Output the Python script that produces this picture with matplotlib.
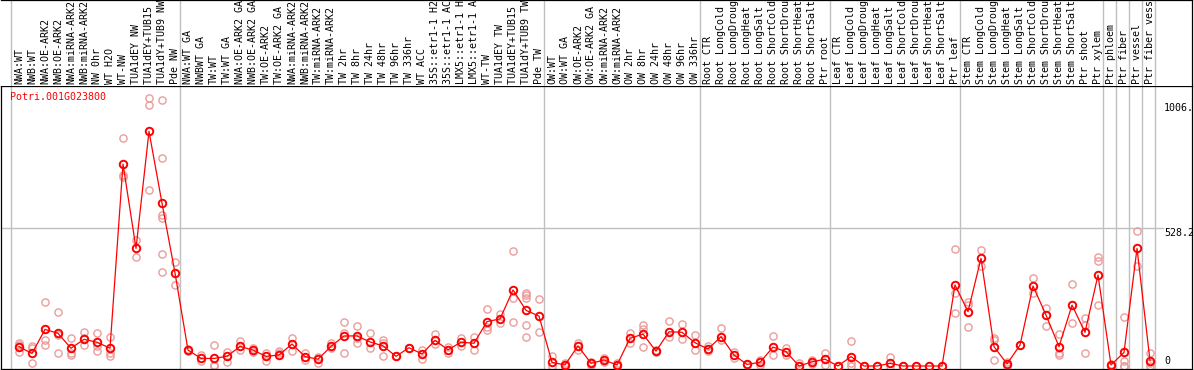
import numpy as np
import matplotlib
matplotlib.use("Agg")
import matplotlib.pyplot as plt

# sample labels (one per column)
labels = [
    "NWA:WT", "NWB:WT", "NWA:OE-ARK2", "NWB:OE-ARK2", "NWA:miRNA-ARK2", "NWB:miRNA-ARK2",
    "NW 0hr", "WT H2O", "WT-NW", "TUA1dEY NW", "TUA1dEY+TUB15 NW", "TUA1dY+TUB9 NW", "Pde NW",
    "NWA:WT GA", "NWBWT GA", "TW:WT", "TW:WT GA", "NWA:OE-ARK2 GA", "NWB:OE-ARK2 GA",
    "TW:OE-ARK2", "TW:OE-ARK2 GA", "NWA:miRNA-ARK2", "NWB:miRNA-ARK2", "TW:miRNA-ARK2",
    "TW:miRNA-ARK2", "TW 2hr", "TW 8hr", "TW 24hr", "TW 48hr", "TW 96hr", "TW 336hr",
    "WT ACC", "35S::etr1-1 H2O", "35S::etr1-1 ACC", "LMX5::etr1-1 H2O", "LMX5::etr1-1 ACC",
    "WT-TW", "TUA1dEY TW", "TUA1dEY+TUB15 TW", "TUA1dY+TUB9 TW", "Pde TW",
    "OW:WT", "OW:WT GA", "OW:OE-ARK2", "OW:OE-ARK2 GA", "OW:miRNA-ARK2", "OW:miRNA-ARK2",
    "OW 2hr", "OW 8hr", "OW 24hr", "OW 48hr", "OW 96hr", "OW 336hr",
    "Root CTR", "Root LongCold", "Root LongDrought", "Root LongHeat", "Root LongSalt",
    "Root ShortCold", "Root ShortDrought", "Root ShortHeat", "Root ShortSalt", "Ptr root",
    "Leaf CTR", "Leaf LongCold", "Leaf LongDrought", "Leaf LongHeat", "Leaf LongSalt",
    "Leaf ShortCold", "Leaf ShortDrought", "Leaf ShortHeat", "Leaf ShortSalt", "Ptr leaf",
    "Stem CTR", "Stem LongCold", "Stem LongDrought", "Stem LongHeat", "Stem LongSalt",
    "Stem ShortCold", "Stem ShortDrought", "Stem ShortHeat", "Stem ShortSalt", "Ptr shoot",
    "Ptr xylem", "Ptr phloem", "Ptr fiber", "Ptr vessel", "Ptr fiber vessel",
]

# number of samples in each block (separated by grey lines)
group_sizes = [13, 28, 12, 10, 10, 11, 1, 1, 1, 1]

# mean expression per sample
means = [
    74, 48, 140, 125, 68, 102, 91, 68, 773, 450, 898, 623, 356,
    61, 29, 29, 37, 75, 61, 37, 42, 84, 36, 26, 75, 115, 115, 92, 77, 37, 70,
    46, 98, 62, 91, 87, 170, 180, 291, 213, 191,
    14, 4, 77, 10, 23, 4, 106, 122, 57, 131, 129, 89,
    65, 112, 42, 6, 14, 72, 55, 0, 16, 26,
    0, 36, 0, 0, 10, 0, 0, 0, 0, 310,
    208, 412, 74, 8, 80, 306, 195, 74, 233, 129, 348,
    4, 52, 450, 20,
]

# individual replicates per sample
replicates = [
    [87, 80, 55], [78, 70, 13], [245, 100, 80], [207, 49, 120], [106, 49, 42],
    [131, 80, 106], [127, 77, 57], [110, 49, 40], [871, 731, 722], [482, 418],
    [1024, 999, 674], [1018, 795, 578, 565, 429, 359], [399, 310],
    [65, 58], [42, 19], [80, 4, 0], [55, 16], [96, 61], [68, 55], [49, 19], [58, 50],
    [106, 57], [49, 23], [33, 13], [87, 68], [167, 128, 49], [153, 106, 89], [128, 68],
    [100, 89, 37], [37, 37], [70, 70], [61, 26], [122, 83], [74, 49], [106, 75],
    [112, 61], [217, 150, 138], [198, 163], [440, 259, 167], [281, 272, 259, 157, 112],
    [256, 129],
    [38, 0], [12, 0], [89, 61], [16, 4], [29, 17], [12, 0], [128, 89], [157, 140, 72],
    [61, 53], [172, 110], [160, 102], [119, 61],
    [77, 59], [147, 100], [55, 29], [4, 8], [23, 5], [115, 42], [68, 42], [10, 0],
    [23, 9], [49, 3],
    [0, 0], [96, 0, 12], [0], [0], [33, 0], [0], [0], [0], [0, 0], [447, 278, 202],
    [246, 233, 148], [444, 383], [106, 100, 23], [16, 0], [80, 80], [335, 278],
    [223, 154], [121, 48, 42], [313, 163], [183, 157, 51], [416, 403, 233],
    [0, 8], [189, 0, 0, 18], [518, 383], [48, 0, 12],
]

gene = "Potri.001G023800"
ytick_vals = [1006.5, 528.2, 0]
ytick_text = ["1006.", "528.2", "0"]

W, H = 1194, 370
fig = plt.figure(figsize=(W / 100, H / 100), dpi=100)
mono = "DejaVu Sans Mono"
grey = "#c0c0c0"

# plot area: x 1..1192 px, y 86..369 px
ax = fig.add_axes([1 / W, 1 / H, 1191 / W, 283 / H])
ax_lab = fig.add_axes([1 / W, (H - 86) / H, 1191 / W, 86 / H])

x = np.arange(len(labels))
xlim = (-1.385, 90.23)
ax.set_xlim(*xlim)
ax.set_ylim(-11.5, 1071.6)
ax_lab.set_xlim(*xlim)
ax_lab.set_ylim(0, 1)

# group separators
bounds = np.cumsum(group_sizes) - 1 + 0.42
for b in np.concatenate([[-0.62], bounds]):
    ax.axvline(b, color=grey, lw=1, zorder=0)
    ax_lab.axvline(b, color=grey, lw=1, zorder=0)

# horizontal reference line
ax.plot([0, 0.976], [528.2, 528.2], transform=ax.get_yaxis_transform(),
        color=grey, lw=1, zorder=0)

# replicates
for i, reps in enumerate(replicates):
    ax.plot([i] * len(reps), reps, 'o', ms=5.2, mfc='none', mec='#eb9c9c',
            mew=1.0, zorder=2, clip_on=False)

# mean line
ax.plot(x, means, '-', color='red', lw=0.9, zorder=3)
ax.plot(x, means, 'o', ms=5.4, mfc='none', mec='red', mew=1.4, zorder=4)

# value labels on the right
ytr = ax.get_yaxis_transform()
for v, t in zip(ytick_vals, ytick_text):
    va = 'bottom' if v == 0 else 'top'
    ax.text(0.9765, v, t, transform=ytr, ha='left', va=va, fontsize=7.2,
            family=mono, color='black')

fig.text(10 / W, 1 - 97 / H, gene, color='red', fontsize=7.2, family=mono,
         ha='left', va='center')

# column labels
for i, lab in enumerate(labels):
    ax_lab.text(i, 0.025, lab, rotation=90, ha='center', va='bottom',
                fontsize=7.2, family=mono, clip_on=True)

for a in (ax, ax_lab):
    a.set_xticks([])
    a.set_yticks([])
    for s in a.spines.values():
        s.set_linewidth(0.9)
        s.set_color('black')
ax_lab.spines['left'].set_visible(False)
ax_lab.spines['bottom'].set_visible(False)

fig.savefig("out.png", dpi=100)
